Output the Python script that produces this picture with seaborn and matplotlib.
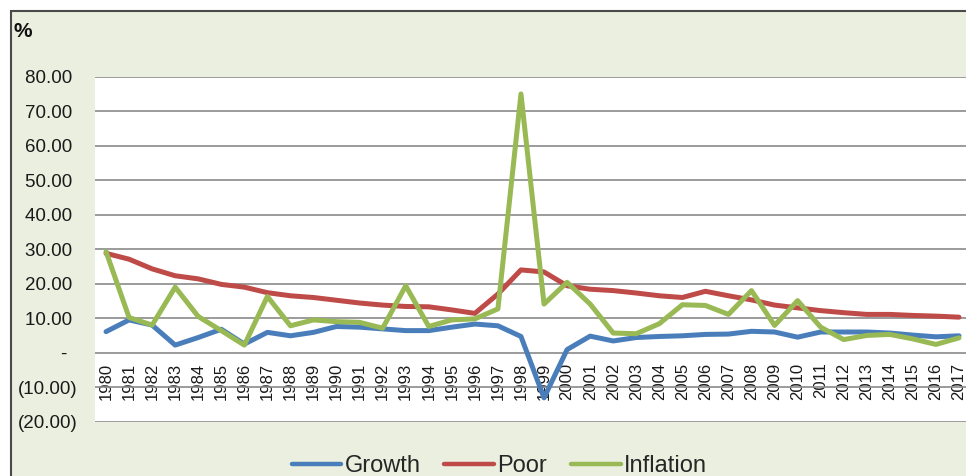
import numpy as np
import pandas as pd
import matplotlib
matplotlib.use("Agg")
import matplotlib.pyplot as plt
from matplotlib.patches import Rectangle
from matplotlib.lines import Line2D
import seaborn as sns

# values (percent)
years = list(range(1980, 2018))
growth = [6.1, 9.5, 8.0, 2.2, 4.4, 6.8, 2.5, 5.9, 4.9, 5.9, 7.6, 7.4, 6.9, 6.4, 6.4, 7.4, 8.3, 7.8,
          4.7, -13.1, 0.9, 4.8, 3.4, 4.4, 4.7, 4.9, 5.3, 5.4, 6.2, 6.0, 4.5, 6.0, 6.0, 6.0, 5.7, 5.1, 4.6, 4.9]
poor = [28.8, 27.1, 24.3, 22.3, 21.4, 19.8, 19.0, 17.4, 16.5, 16.0, 15.2, 14.4, 13.8, 13.4, 13.3, 12.4, 11.4, 17.0,
        24.0, 23.4, 19.4, 18.4, 18.0, 17.3, 16.5, 16.0, 17.8, 16.5, 15.3, 13.8, 13.0, 12.2, 11.6, 11.1, 11.1, 10.8, 10.6, 10.3]
inflation = [29.3, 10.2, 8.0, 19.0, 10.5, 6.4, 2.2, 16.3, 7.8, 9.5, 9.0, 8.8, 7.1, 19.4, 7.6, 9.5, 9.8, 12.7,
             75.0, 14.1, 20.4, 14.1, 5.7, 5.5, 8.4, 13.9, 13.7, 11.1, 18.0, 7.9, 15.1, 7.4, 3.8, 5.0, 5.3, 4.0, 2.4, 4.3]

series_names = ["Growth", "Poor", "Inflation"]
series_colors = ["#4A7EBB", "#BE4B48", "#98B954"]
y_ticks = [-20, -10, 0, 10, 20, 30, 40, 50, 60, 70, 80]
y_labels = ["(20.00)", "(10.00)", "-  ", "10.00 ", "20.00 ", "30.00 ", "40.00 ",
            "50.00 ", "60.00 ", "70.00 ", "80.00 "]

df = pd.DataFrame({
    "year": years * 3,
    "value": growth + poor + inflation,
    "series": [s for s in series_names for _ in years],
})

sns.set_theme(style="white")
plt.rcParams["font.family"] = ["Liberation Sans", "DejaVu Sans"]

fig = plt.figure(figsize=(9.66, 4.76), dpi=100)
fig.patch.set_facecolor("white")
fig.add_artist(Rectangle((10.5 / 966, -0.05), 1.1, 1 - 10.5 / 476 + 0.05,
                         transform=fig.transFigure, facecolor="#EBEFDF",
                         edgecolor="#4a4a4a", linewidth=1.5, zorder=-10))

ax = fig.add_axes([94.5 / 966, 1 - 421.7 / 476, 876 / 966, (421.7 - 76.7) / 476])
ax.set_facecolor("white")
# x labels sit just under the zero line, like the source chart
ax.spines["bottom"].set_position(("data", 0))

sns.lineplot(data=df, x="year", y="value", hue="series", hue_order=series_names,
             palette=series_colors, linewidth=3.6, sort=False, legend=False, ax=ax)
for ln in ax.lines:
    ln.set_solid_joinstyle("round")
    ln.set_solid_capstyle("round")

ax.set_ylim(-20, 80)
ax.set_xlim(years[0] - 0.5, years[-1] + 0.5)
ax.set_yticks(y_ticks)
ax.set_yticklabels(y_labels, fontsize=13.5, color="#1a1a1a")
ax.set_xticks(years)
ax.set_xticklabels([str(y) for y in years], fontsize=12, color="#1a1a1a")
ax.set_xlabel("")
ax.set_ylabel("")

ax.yaxis.grid(True, color="#8a8a8a", linewidth=1.2)
ax.set_axisbelow(True)
for side in ["top", "right", "left", "bottom"]:
    ax.spines[side].set_visible(False)
ax.tick_params(axis="y", length=0, pad=12)
ax.tick_params(axis="x", length=0, pad=7, labelrotation=90)

fig.text(14 / 966, 1 - 37 / 476, "%", fontsize=15, fontweight="bold", color="#111111")

handles = [Line2D([], [], color=c, linewidth=3.2, solid_capstyle="round") for c in series_colors]
fig.legend(handles, series_names, loc="center", bbox_to_anchor=(0.517, 0.02),
           ncol=3, frameon=False, fontsize=17, handlelength=2.1, handletextpad=0.15,
           columnspacing=1.0)

fig.savefig("out.png", dpi=100, facecolor=fig.get_facecolor())
